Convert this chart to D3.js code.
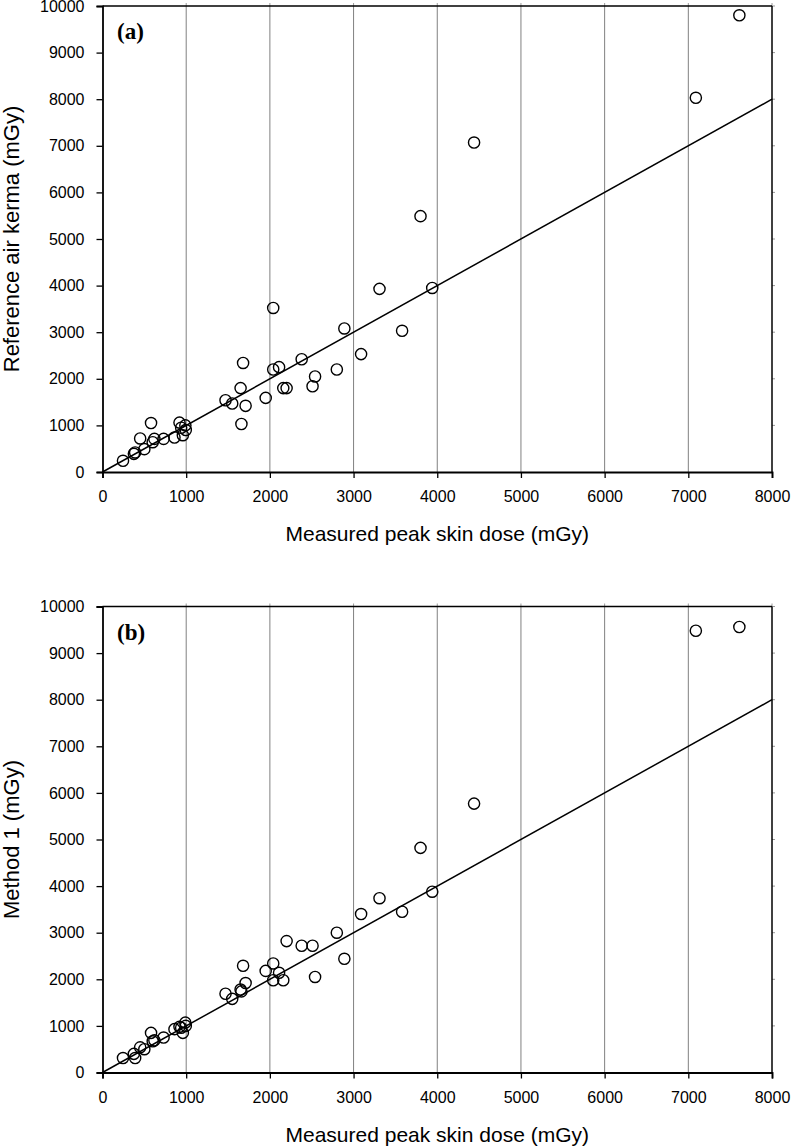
<!DOCTYPE html>
<html><head><meta charset="utf-8">
<script src="https://cdn.jsdelivr.net/npm/d3@7"></script>
<style>body{margin:0;background:#fff}</style>
</head><body>
<svg id="chart" width="793" height="1148"></svg>
<script>
const xTicks = [0,1000,2000,3000,4000,5000,6000,7000,8000];
const yTicks = [0,1000,2000,3000,4000,5000,6000,7000,8000,9000,10000];
const gridTicks = [1000,2000,3000,4000,5000,6000,7000];
const xTitle = "Measured peak skin dose (mGy)";

const measuredDose = [245,375,390,450,500,580,600,620,730,860,920,940,960,990,995,
  1470,1550,1650,1660,1680,1710,1950,2040,2040,2110,2160,2200,2380,2510,2540,
  2800,2890,3090,3310,3580,3800,3940,4440,7090,7610];
const refAirKerma = [240,390,420,720,490,1050,640,710,710,740,1060,950,790,1000,900,
  1540,1470,1800,1030,2340,1420,1590,3520,2200,2250,1800,1800,2420,1840,2050,
  2200,3080,2530,3930,3030,5490,3950,7070,8030,9800];
const method1 = [310,400,310,540,500,850,670,690,750,930,980,960,850,1070,1000,
  1690,1580,1780,1740,2290,1920,2180,2340,1980,2140,1980,2820,2720,2720,2050,
  3000,2440,3400,3740,3450,4820,3880,5770,9480,9560];

const panels = [
  {label:"(a)", yTitle:"Reference air kerma (mGy)", values: refAirKerma, top: 6},
  {label:"(b)", yTitle:"Method 1 (mGy)", values: method1, top: 606.5}
];

const svg = d3.select("#chart");
const left = 102.5, right = 772, plotH = 466;
const x = d3.scaleLinear().domain([0,8000]).range([left,right]);
const y = d3.scaleLinear().domain([0,10000]).range([plotH,0]);
const font = "'Liberation Sans', Arial, sans-serif";

panels.forEach(p => {
  const g = svg.append("g").attr("transform",`translate(0,${p.top})`);

  // grid lines
  g.selectAll("line.grid").data(gridTicks).enter().append("line")
    .attr("x1",d=>x(d)).attr("x2",d=>x(d)).attr("y1",0).attr("y2",plotH)
    .attr("stroke","#808080").attr("stroke-width",1);

  // top ticks (small, outward)
  g.selectAll("line.tt").data(xTicks.slice(1)).enter().append("line")
    .attr("x1",d=>x(d)).attr("x2",d=>x(d)).attr("y1",0).attr("y2",-3)
    .attr("stroke","#999").attr("stroke-width",1);
  // right ticks
  g.selectAll("line.rt").data(yTicks.slice(1)).enter().append("line")
    .attr("x1",right).attr("x2",right+3).attr("y1",d=>y(d)).attr("y2",d=>y(d))
    .attr("stroke","#999").attr("stroke-width",1);

  // frame top & right
  g.append("line").attr("x1",left).attr("x2",right).attr("y1",0).attr("y2",0)
    .attr("stroke","#000").attr("stroke-width",1.5);
  g.append("line").attr("x1",right).attr("x2",right).attr("y1",0).attr("y2",plotH)
    .attr("stroke","#000").attr("stroke-width",1.5);

  // identity line
  g.append("line").attr("x1",x(0)).attr("y1",y(0)).attr("x2",x(8000)).attr("y2",y(8000))
    .attr("stroke","#000").attr("stroke-width",1.5);

  // axes
  const xa = g.append("g").attr("transform",`translate(0,${plotH})`)
    .call(d3.axisBottom(x).tickValues(xTicks).tickSize(6).tickPadding(13).tickFormat(d3.format("d")));
  const ya = g.append("g").attr("transform",`translate(${left},0)`)
    .call(d3.axisLeft(y).tickValues(yTicks).tickSize(6).tickPadding(12).tickFormat(d3.format("d")));
  [xa,ya].forEach(a=>{
    a.select(".domain").attr("stroke","#000").attr("stroke-width",1.8);
    a.selectAll(".tick line").attr("stroke","#000").attr("stroke-width",1.3);
    a.selectAll(".tick text").attr("fill","#000").style("font-family",font).style("font-size","16px");
  });

  // points
  g.selectAll("circle").data(measuredDose).enter().append("circle")
    .attr("cx",d=>x(d)).attr("cy",(d,i)=>y(p.values[i])).attr("r",5.6)
    .attr("fill","none").attr("stroke","#000").attr("stroke-width",1.4);

  // panel label
  g.append("text").attr("x",117).attr("y",33).text(p.label)
    .style("font-family","'Liberation Serif','Times New Roman',serif")
    .style("font-weight","bold").style("font-size","23px");

  // titles
  g.append("text").attr("x",(left+right)/2).attr("y",plotH+69).attr("text-anchor","middle")
    .style("font-family",font).style("font-size","21px").text(xTitle);
  g.append("text").attr("transform",`translate(19,${plotH/2}) rotate(-90)`).attr("text-anchor","middle")
    .style("font-family",font).style("font-size","22px").text(p.yTitle);
});
</script>
</body></html>
